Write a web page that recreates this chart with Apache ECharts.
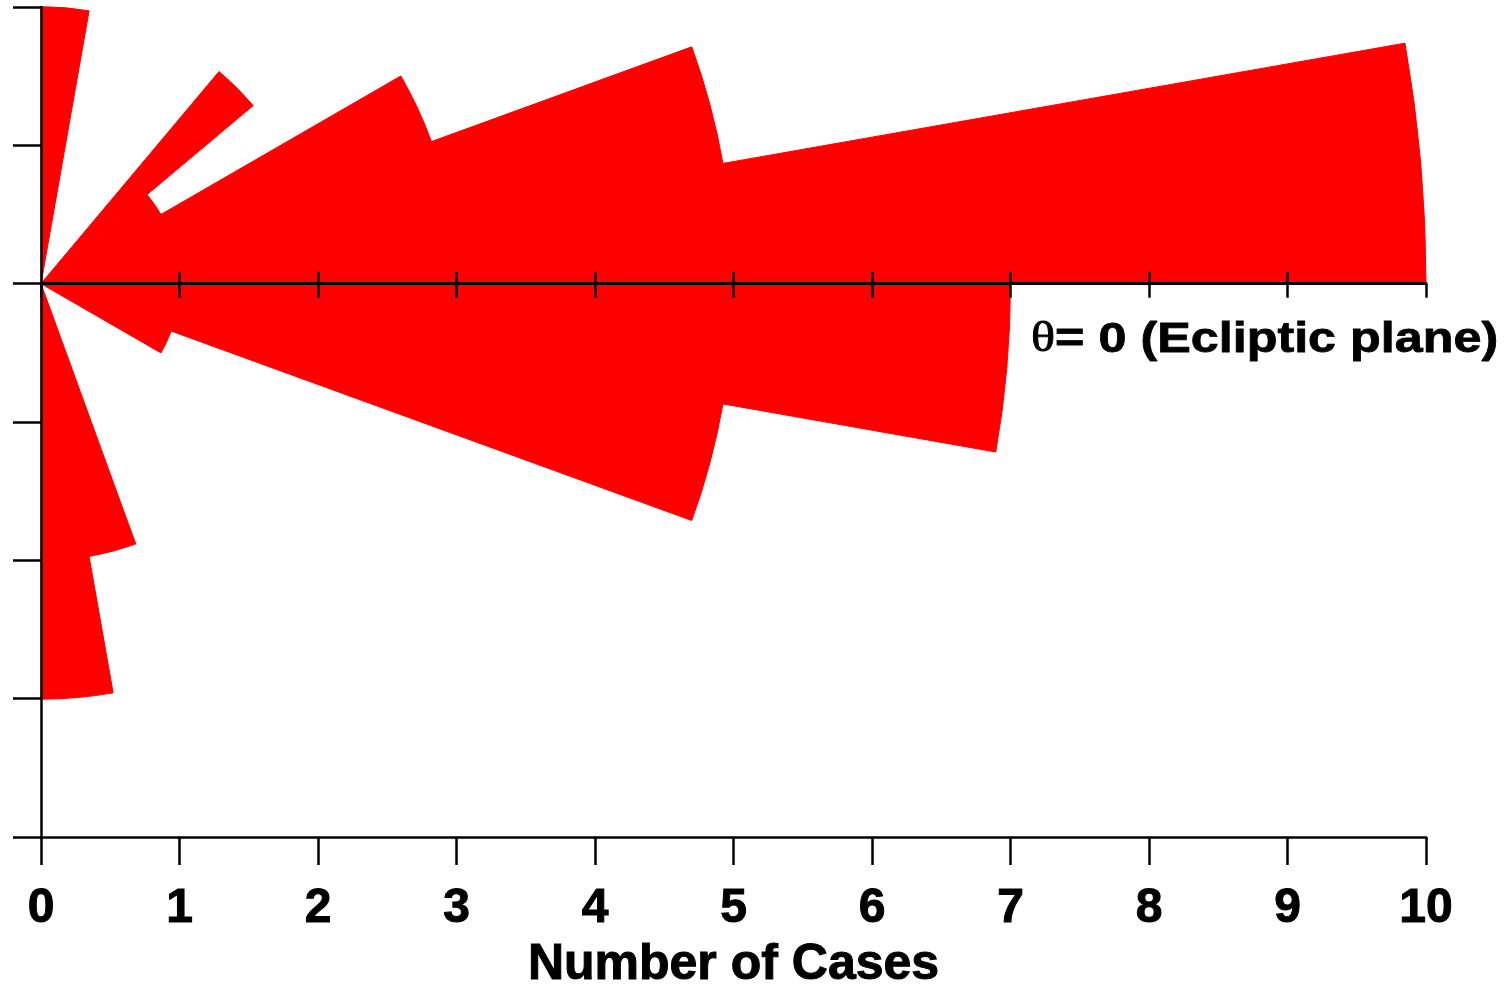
<!DOCTYPE html>
<html>
<head>
<meta charset="utf-8">
<title>Number of Cases by latitude</title>
<script src="https://cdn.jsdelivr.net/npm/echarts@6/dist/echarts.min.js"></script>
<style>
  html, body { margin: 0; padding: 0; background: #fff; }
  #chart { width: 1504px; height: 985px; }
</style>
</head>
<body>
<div id="chart"></div>
<script>
// Latitude bins (degrees), from the north pole (top) to the south pole (bottom)
const latBins = [
  '80..90', '70..80', '60..70', '50..60', '40..50', '30..40', '20..30', '10..20', '0..10',
  '-10..0', '-20..-10', '-30..-20', '-40..-30', '-50..-40', '-60..-50', '-70..-60', '-80..-70', '-90..-80'
];
// Number of cases in each latitude bin
const cases = [2, 0, 0, 0, 2, 1, 3, 5, 10, 7, 5, 1, 0, 0, 0, 0, 2, 3];
// Tick values of the count scale
const countTicks = [0, 1, 2, 3, 4, 5, 6, 7, 8, 9, 10];
const upperTicks = [1, 2, 3, 4, 5, 6, 7, 8, 9];

// The rose uses a full circle of 10-degree sectors; the far half stays empty
const angleCats = latBins.slice();
const roseValues = cases.slice();
for (let i = 0; i < latBins.length; i++) {
  angleCats.push('back' + i);
  roseValues.push(null);
}

const FONT = '"Liberation Sans", Arial, sans-serif';
const axisLineStyle = { color: '#000', width: 2.5 };

// grid geometry: y runs from -4 (bottom) to 2 (top)
const GRID_TOP = 7, GRID_BOTTOM = 148, CHART_H = 985;
const gridH = CHART_H - GRID_TOP - GRID_BOTTOM;
const zeroY = GRID_TOP + gridH * 2 / 6;

const chart = echarts.init(document.getElementById('chart'), null, { renderer: 'canvas' });

chart.setOption({
  animation: false,
  backgroundColor: '#fff',
  grid: {
    left: 41, right: 78, top: GRID_TOP, bottom: GRID_BOTTOM,
    containLabel: false, outerBoundsMode: 'none'
  },
  polar: { center: [41, zeroY], radius: 1385 },
  angleAxis: {
    type: 'category',
    data: angleCats,
    startAngle: 90,
    clockwise: true,
    show: false
  },
  radiusAxis: { type: 'value', min: 0, max: 10, show: false },
  xAxis: [
    {
      type: 'value', min: 0, max: 10, interval: 1,
      position: 'bottom',
      z: 10,
      axisLine: { show: true, onZero: false, lineStyle: axisLineStyle },
      axisTick: { show: true, length: 28, lineStyle: { color: '#000', width: 2.5 } },
      splitLine: { show: false },
      axisLabel: {
        show: true, margin: 48, color: '#000',
        fontFamily: FONT, fontWeight: 'bold', fontSize: 48,
        textBorderColor: '#000', textBorderWidth: 1,
        customValues: countTicks
      },
      name: 'Number of Cases',
      nameLocation: 'middle',
      nameGap: 103,
      nameTextStyle: {
        color: '#000', fontFamily: FONT, fontWeight: 'bold', fontSize: 50,
        textBorderColor: '#000', textBorderWidth: 1
      }
    },
    {
      // equatorial axis: ticks pointing down
      type: 'value', min: 0, max: 10, interval: 1,
      position: 'top',
      offset: -(zeroY - GRID_TOP),
      z: 10,
      axisLine: { show: true, onZero: false, lineStyle: { color: '#000', width: 3 } },
      axisTick: { show: true, inside: true, length: 14, lineStyle: { color: '#000', width: 2.5 } },
      splitLine: { show: false },
      axisLabel: { show: false }
    },
    {
      // equatorial axis: ticks pointing up
      type: 'value', min: 0, max: 10, interval: 1,
      position: 'top',
      offset: -(zeroY - GRID_TOP),
      z: 10,
      axisLine: { show: false, onZero: false },
      axisTick: { show: true, inside: false, length: 12, customValues: upperTicks, lineStyle: { color: '#000', width: 2.5 } },
      splitLine: { show: false },
      axisLabel: { show: false }
    }
  ],
  yAxis: {
    type: 'value', min: -4, max: 2, interval: 1,
    position: 'left',
    z: 10,
    axisLine: { show: true, onZero: false, lineStyle: axisLineStyle },
    axisTick: { show: true, length: 28, lineStyle: { color: '#000', width: 2.5 } },
    splitLine: { show: false },
    axisLabel: { show: false }
  },
  series: [
    {
      type: 'bar',
      coordinateSystem: 'polar',
      data: roseValues,
      barCategoryGap: '0%',
      barGap: '0%',
      z: 1,
      itemStyle: { color: '#ff0000', borderColor: '#ff0000', borderWidth: 1 },
      silent: true
    }
  ],
  graphic: [
    {
      type: 'text',
      x: 1031,
      y: zeroY + 56,
      scaleX: 1.17,
      z: 20,
      style: {
        text: '{th|θ}= 0 (Ecliptic plane)',
        fill: '#000',
        font: 'bold 43px "Liberation Sans", Arial, sans-serif',
        stroke: '#000',
        lineWidth: 0.8,
        verticalAlign: 'middle',
        align: 'left',
        rich: {
          th: { fontFamily: '"Liberation Serif", serif', fontWeight: 'normal', fontSize: 43, fill: '#000' }
        }
      }
    }
  ]
});
</script>
</body>
</html>
